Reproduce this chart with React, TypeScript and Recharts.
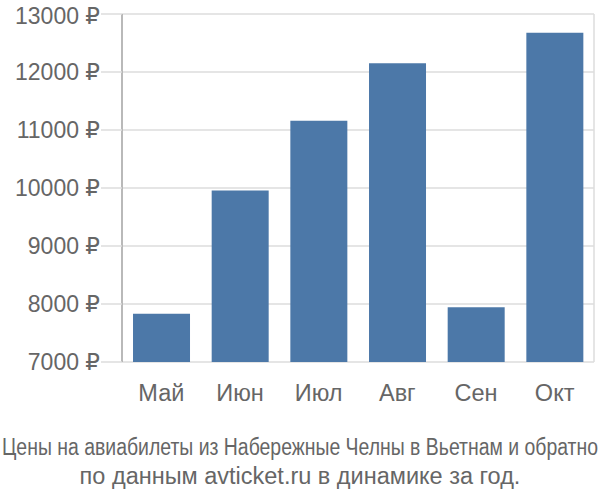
import { BarChart, Bar, XAxis, YAxis, CartesianGrid } from 'recharts'

const months = ['Май', 'Июн', 'Июл', 'Авг', 'Сен', 'Окт']
const prices = [7830, 9955, 11160, 12150, 7945, 12675]
const yTicks = [7000, 8000, 9000, 10000, 11000, 12000, 13000]
const gridTicks = [0, 1, 2, 3, 4, 5, 6]
const titleLine1 = 'Цены на авиабилеты из Набережные Челны в Вьетнам и обратно'
const titleLine2 = 'по данным avticket.ru в динамике за год.'

const font = '"Liberation Sans", "DejaVu Sans", Arial, sans-serif'
const textColor = '#666666'

export default function App() {
  const data = months.map((m, i) => ({ month: m, price: prices[i], pos: i + 0.5 }))

  return (
    <div style={{ position: 'absolute', top: 0, left: 0, width: 600, height: 500, background: '#fff', fontFamily: font }}>
      <BarChart
        width={600}
        height={420}
        data={data}
        margin={{ top: 14, right: 6, left: 0, bottom: 18 }}
        barCategoryGap="14%"
      >
        <CartesianGrid xAxisId="grid" stroke="#dddddd" strokeWidth={1.5} />
        <XAxis
          xAxisId="grid"
          type="number"
          dataKey="pos"
          domain={[0, 6]}
          ticks={gridTicks}
          tick={false}
          tickSize={18}
          tickLine={{ stroke: '#dddddd', strokeWidth: 1.5 }}
          axisLine={false}
          height={0}
          allowDataOverflow
        />
        <XAxis
          xAxisId="cat"
          dataKey="month"
          tickLine={false}
          axisLine={false}
          tickSize={18}
          tickMargin={4}
          height={40}
          tick={{ fill: textColor, fontSize: 23.5, fontFamily: font }}
        />
        <YAxis
          domain={[7000, 13000]}
          ticks={yTicks}
          width={122}
          tickSize={21}
          tickMargin={1}
          tickLine={{ stroke: '#dddddd', strokeWidth: 1.5 }}
          axisLine={{ stroke: '#aaaaaa', strokeWidth: 1.5 }}
          tickFormatter={(v: number) => `${v} ₽`}
          tick={{ fill: textColor, fontSize: 23, fontFamily: font }}
          allowDataOverflow
        />
        <Bar xAxisId="cat" dataKey="price" fill="#4c78a8" isAnimationActive={false} />
      </BarChart>
      <svg width={600} height={80} style={{ display: 'block' }}>
        <text
          x={300}
          y={35}
          textAnchor="middle"
          fontSize={23.5}
          fill={textColor}
          fontFamily={font}
          textLength={596}
          lengthAdjust="spacingAndGlyphs"
        >
          {titleLine1}
        </text>
        <text x={300} y={64} textAnchor="middle" fontSize={23.5} fill={textColor} fontFamily={font}>
          {titleLine2}
        </text>
      </svg>
    </div>
  )
}
